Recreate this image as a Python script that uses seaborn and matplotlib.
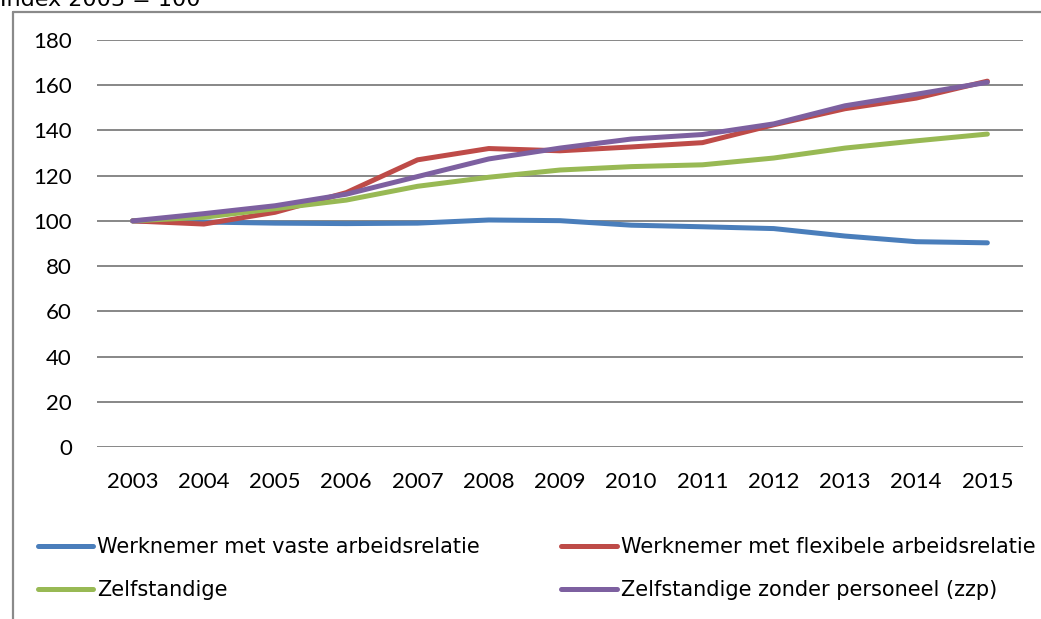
import matplotlib
matplotlib.use("Agg")
import matplotlib.pyplot as plt
import seaborn as sns
import pandas as pd
from matplotlib.lines import Line2D

years = [2003, 2004, 2005, 2006, 2007, 2008, 2009, 2010, 2011, 2012, 2013, 2014, 2015]
vaste = [100, 99.5, 99.0, 98.8, 99.0, 100.4, 100.1, 98.1, 97.4, 96.6, 93.3, 90.8, 90.3]
flexibel = [100, 98.6, 103.8, 112.5, 127.0, 132.0, 131.0, 132.7, 134.6, 142.5, 149.6, 154.3, 161.8]
zelfstandig = [100, 101.6, 105.4, 109.2, 115.3, 119.3, 122.5, 124.0, 124.8, 127.8, 132.2, 135.4, 138.4]
zzp = [100, 103.2, 106.7, 111.8, 119.6, 127.4, 132.2, 136.2, 138.2, 142.9, 150.9, 156.0, 161.3]

series_names = [
    "Werknemer met vaste arbeidsrelatie",
    "Werknemer met flexibele arbeidsrelatie",
    "Zelfstandige",
    "Zelfstandige zonder personeel (zzp)",
]
colors = ["#4A7EBB", "#BE4B48", "#98B954", "#7D60A0"]
title = "Index 2003 = 100"
yticks = [0, 20, 40, 60, 80, 100, 120, 140, 160, 180]

df = pd.concat([
    pd.DataFrame({"jaar": years, "index": vals, "reeks": name})
    for name, vals in zip(series_names, [vaste, flexibel, zelfstandig, zzp])
])

sns.set_theme(style="white")
plt.rcParams["font.family"] = ["DejaVu Sans"]
plt.rcParams["text.color"] = "black"

W, H = 1041, 619
fig = plt.figure(figsize=(W / 100, H / 100), dpi=100)
ax = fig.add_axes([97 / W, 1 - 447 / H, (1023 - 97) / W, (447 - 40) / H])

sns.lineplot(data=df, x="jaar", y="index", hue="reeks", hue_order=series_names,
             palette=colors, linewidth=3.6, ax=ax, legend=False,
             solid_capstyle="round", solid_joinstyle="round")

ax.set_xlim(2002.5, 2015.5)
ax.set_ylim(0, 180)
ax.set_yticks(yticks)
ax.set_xticks(years)
ax.set_xticklabels([str(y) for y in years])
ax.grid(axis="y", color="#878787", linewidth=1.4)
ax.set_axisbelow(True)
for s in ax.spines.values():
    s.set_visible(False)
ax.set_xlabel("")
ax.set_ylabel("")
ax.tick_params(axis="y", length=0, pad=18, labelsize=16, colors="black")
ax.tick_params(axis="x", length=0, pad=18, labelsize=16, colors="black")
for lab in ax.get_xticklabels() + ax.get_yticklabels():
    lab.set_family("Lato")

# chart border (cropped)
fig.add_artist(Line2D([13 / W, 13 / W], [0, 1 - 12 / H], color="#8a8a8a", linewidth=1.6,
                      transform=fig.transFigure))
fig.add_artist(Line2D([13 / W, 1], [1 - 12 / H, 1 - 12 / H], color="#8a8a8a", linewidth=1.6,
                      transform=fig.transFigure))

fig.text(0 / W, 1 - 6 / H, title, fontsize=16, va="baseline", ha="left", color="black")

handles = [Line2D([0], [0], color=c, linewidth=3.6, solid_capstyle="round") for c in colors]
order = [0, 2, 1, 3]
leg = fig.legend([handles[i] for i in order], [series_names[i] for i in order],
                 loc="upper left", bbox_to_anchor=(38 / W, 1 - 537 / H), ncol=2,
                 frameon=False, fontsize=15, handlelength=2.65, handletextpad=0.2,
                 labelspacing=1.12, columnspacing=3.9, borderaxespad=0, borderpad=0)
for t in leg.get_texts():
    t.set_color("black")

fig.savefig("out.png", dpi=100)
